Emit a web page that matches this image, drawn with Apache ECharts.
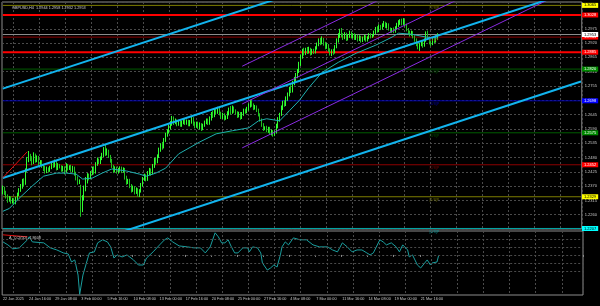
<!DOCTYPE html>
<html><head><meta charset="utf-8">
<script src="https://cdn.jsdelivr.net/npm/echarts@6/dist/echarts.min.js"></script>
<style>html,body{margin:0;padding:0;background:#000}#c{width:600px;height:306px}</style>
</head><body><div id="c"></div>
<script>
// ---- time axis ----
const slotCount = 356;
const tickLabels = ['22 Jan 2025','24 Jan 16:00','29 Jan 08:00','3 Feb 00:00','5 Feb 16:00','10 Feb 08:00','13 Feb 00:00','17 Feb 16:00','20 Feb 08:00','25 Feb 00:00','27 Feb 16:00','4 Mar 08:00','7 Mar 00:00','11 Mar 16:00','14 Mar 08:00','19 Mar 00:00','21 Mar 16:00'];
const barsPerLabel = 16;
// ---- candles [open, close, low, high] per week ----
const wk1 = [[1.2350,1.2362,1.2338,1.2372],[1.2362,1.2345,1.2336,1.2368],[1.2345,1.2330,1.2322,1.2352],[1.2330,1.2318,1.2306,1.2338],[1.2318,1.2325,1.2310,1.2332],[1.2325,1.2310,1.2302,1.2330],[1.2310,1.2318,1.2303,1.2324],[1.2318,1.2305,1.2298,1.2322],[1.2305,1.2322,1.2300,1.2328],[1.2322,1.2340,1.2315,1.2345],[1.2340,1.2355,1.2332,1.2362],[1.2355,1.2368,1.2348,1.2378],[1.2368,1.2392,1.2360,1.2398],[1.2392,1.2378,1.2370,1.2400],[1.2378,1.2430,1.2375,1.2438],[1.2430,1.2475,1.2425,1.2482],[1.2475,1.2488,1.2462,1.2505],[1.2488,1.2478,1.2466,1.2494]];
const wk2 = [[1.2478,1.2462,1.2450,1.2485],[1.2462,1.2490,1.2455,1.2500],[1.2490,1.2472,1.2460,1.2495],[1.2472,1.2480,1.2462,1.2488],[1.2480,1.2458,1.2448,1.2486],[1.2458,1.2465,1.2450,1.2470],[1.2465,1.2448,1.2440,1.2470],[1.2448,1.2440,1.2428,1.2455],[1.2440,1.2425,1.2418,1.2448],[1.2425,1.2438,1.2420,1.2445],[1.2438,1.2430,1.2422,1.2442],[1.2430,1.2442,1.2425,1.2448],[1.2442,1.2455,1.2435,1.2460],[1.2455,1.2448,1.2440,1.2462],[1.2448,1.2465,1.2442,1.2472],[1.2465,1.2438,1.2430,1.2470],[1.2438,1.2450,1.2432,1.2458],[1.2450,1.2445,1.2438,1.2455],[1.2445,1.2432,1.2425,1.2450],[1.2432,1.2442,1.2426,1.2448],[1.2442,1.2428,1.2415,1.2446],[1.2428,1.2448,1.2422,1.2458],[1.2448,1.2438,1.2430,1.2455],[1.2438,1.2445,1.2432,1.2450],[1.2445,1.2430,1.2425,1.2452],[1.2430,1.2440,1.2422,1.2448],[1.2440,1.2418,1.2410,1.2445],[1.2418,1.2400,1.2392,1.2425],[1.2400,1.2385,1.2375,1.2408],[1.2385,1.2390,1.2378,1.2396]];
const wk3 = [[1.2370,1.2290,1.2252,1.2375],[1.2290,1.2325,1.2270,1.2335],[1.2325,1.2360,1.2315,1.2372],[1.2360,1.2395,1.2350,1.2405],[1.2395,1.2410,1.2380,1.2420],[1.2410,1.2402,1.2392,1.2418],[1.2402,1.2420,1.2396,1.2428],[1.2420,1.2438,1.2412,1.2445],[1.2438,1.2422,1.2415,1.2446],[1.2422,1.2455,1.2418,1.2462],[1.2455,1.2470,1.2448,1.2480],[1.2470,1.2462,1.2455,1.2476],[1.2462,1.2478,1.2455,1.2484],[1.2478,1.2490,1.2470,1.2498],[1.2490,1.2512,1.2482,1.2520],[1.2512,1.2495,1.2486,1.2528],[1.2495,1.2505,1.2488,1.2515],[1.2505,1.2485,1.2478,1.2510],[1.2485,1.2470,1.2460,1.2490],[1.2470,1.2448,1.2440,1.2475],[1.2448,1.2430,1.2420,1.2452],[1.2430,1.2440,1.2424,1.2446],[1.2440,1.2425,1.2418,1.2445],[1.2425,1.2432,1.2418,1.2440],[1.2432,1.2440,1.2425,1.2446],[1.2440,1.2428,1.2420,1.2445],[1.2428,1.2435,1.2422,1.2442],[1.2435,1.2405,1.2395,1.2440],[1.2405,1.2385,1.2375,1.2410],[1.2385,1.2392,1.2378,1.2398]];
const wk4 = [[1.2392,1.2370,1.2362,1.2398],[1.2370,1.2355,1.2345,1.2378],[1.2355,1.2365,1.2348,1.2372],[1.2365,1.2345,1.2338,1.2370],[1.2345,1.2358,1.2340,1.2365],[1.2358,1.2340,1.2330,1.2362],[1.2340,1.2352,1.2328,1.2358],[1.2352,1.2375,1.2345,1.2382],[1.2375,1.2398,1.2368,1.2405],[1.2398,1.2410,1.2390,1.2418],[1.2410,1.2395,1.2388,1.2415],[1.2395,1.2420,1.2390,1.2428],[1.2420,1.2432,1.2412,1.2440],[1.2432,1.2420,1.2410,1.2438],[1.2420,1.2448,1.2415,1.2455],[1.2448,1.2470,1.2440,1.2478],[1.2470,1.2462,1.2452,1.2480],[1.2462,1.2485,1.2458,1.2492],[1.2485,1.2510,1.2478,1.2518],[1.2510,1.2528,1.2502,1.2535],[1.2528,1.2520,1.2510,1.2540],[1.2520,1.2548,1.2515,1.2555],[1.2548,1.2568,1.2540,1.2575],[1.2568,1.2580,1.2560,1.2588],[1.2580,1.2595,1.2572,1.2605],[1.2595,1.2612,1.2588,1.2620],[1.2612,1.2630,1.2602,1.2640],[1.2630,1.2615,1.2605,1.2638],[1.2615,1.2622,1.2608,1.2630],[1.2622,1.2610,1.2600,1.2626]];
const wk5 = [[1.2610,1.2618,1.2602,1.2625],[1.2618,1.2605,1.2598,1.2624],[1.2605,1.2615,1.2598,1.2622],[1.2615,1.2625,1.2608,1.2632],[1.2625,1.2612,1.2605,1.2630],[1.2612,1.2620,1.2606,1.2626],[1.2620,1.2608,1.2600,1.2625],[1.2608,1.2618,1.2600,1.2624],[1.2618,1.2630,1.2610,1.2638],[1.2630,1.2612,1.2602,1.2635],[1.2612,1.2600,1.2592,1.2618],[1.2600,1.2612,1.2595,1.2618],[1.2612,1.2598,1.2590,1.2618],[1.2598,1.2608,1.2588,1.2615],[1.2608,1.2592,1.2582,1.2612],[1.2592,1.2605,1.2585,1.2610],[1.2605,1.2615,1.2598,1.2622],[1.2615,1.2622,1.2608,1.2630],[1.2622,1.2612,1.2605,1.2630],[1.2612,1.2630,1.2606,1.2638],[1.2630,1.2648,1.2622,1.2655],[1.2648,1.2640,1.2632,1.2660],[1.2640,1.2662,1.2635,1.2668],[1.2662,1.2655,1.2646,1.2670],[1.2655,1.2668,1.2648,1.2675],[1.2668,1.2650,1.2642,1.2672],[1.2650,1.2635,1.2628,1.2656],[1.2635,1.2645,1.2628,1.2652],[1.2645,1.2630,1.2622,1.2650],[1.2630,1.2635,1.2625,1.2642]];
const wk6 = [[1.2635,1.2650,1.2628,1.2658],[1.2650,1.2665,1.2642,1.2672],[1.2665,1.2655,1.2645,1.2678],[1.2655,1.2670,1.2648,1.2680],[1.2670,1.2660,1.2652,1.2676],[1.2660,1.2652,1.2645,1.2665],[1.2652,1.2640,1.2632,1.2658],[1.2640,1.2650,1.2634,1.2656],[1.2650,1.2632,1.2625,1.2655],[1.2632,1.2648,1.2628,1.2655],[1.2648,1.2662,1.2640,1.2668],[1.2662,1.2655,1.2648,1.2668],[1.2655,1.2668,1.2650,1.2675],[1.2668,1.2680,1.2660,1.2688],[1.2680,1.2695,1.2672,1.2702],[1.2695,1.2682,1.2675,1.2705],[1.2682,1.2670,1.2662,1.2688],[1.2670,1.2675,1.2664,1.2682],[1.2675,1.2662,1.2655,1.2680],[1.2662,1.2645,1.2638,1.2668],[1.2645,1.2625,1.2618,1.2650],[1.2625,1.2605,1.2598,1.2630],[1.2605,1.2590,1.2582,1.2612],[1.2590,1.2595,1.2585,1.2600],[1.2595,1.2585,1.2578,1.2602],[1.2585,1.2592,1.2575,1.2598],[1.2592,1.2575,1.2568,1.2598],[1.2575,1.2580,1.2565,1.2588],[1.2580,1.2570,1.2560,1.2585],[1.2570,1.2578,1.2562,1.2584]];
const wk7 = [[1.2578,1.2600,1.2572,1.2610],[1.2600,1.2625,1.2592,1.2635],[1.2625,1.2645,1.2618,1.2652],[1.2645,1.2670,1.2640,1.2680],[1.2670,1.2690,1.2662,1.2698],[1.2690,1.2685,1.2675,1.2700],[1.2685,1.2705,1.2678,1.2715],[1.2705,1.2722,1.2698,1.2730],[1.2722,1.2745,1.2715,1.2752],[1.2745,1.2735,1.2728,1.2758],[1.2735,1.2765,1.2730,1.2775],[1.2765,1.2780,1.2758,1.2790],[1.2780,1.2795,1.2772,1.2805],[1.2795,1.2812,1.2785,1.2820],[1.2812,1.2840,1.2805,1.2848],[1.2840,1.2868,1.2832,1.2875],[1.2868,1.2890,1.2860,1.2898],[1.2890,1.2880,1.2872,1.2902],[1.2880,1.2895,1.2874,1.2902],[1.2895,1.2885,1.2878,1.2905],[1.2885,1.2898,1.2880,1.2906],[1.2898,1.2880,1.2872,1.2902],[1.2880,1.2892,1.2875,1.2898],[1.2892,1.2885,1.2878,1.2898],[1.2885,1.2900,1.2880,1.2908],[1.2900,1.2915,1.2895,1.2922],[1.2915,1.2930,1.2908,1.2938],[1.2930,1.2920,1.2912,1.2940],[1.2920,1.2935,1.2915,1.2946],[1.2935,1.2918,1.2910,1.2940]];
const wk8 = [[1.2918,1.2905,1.2896,1.2925],[1.2905,1.2912,1.2898,1.2920],[1.2912,1.2895,1.2886,1.2916],[1.2895,1.2880,1.2872,1.2900],[1.2880,1.2890,1.2870,1.2896],[1.2890,1.2885,1.2875,1.2898],[1.2885,1.2905,1.2880,1.2912],[1.2905,1.2930,1.2900,1.2938],[1.2930,1.2948,1.2922,1.2958],[1.2948,1.2965,1.2940,1.2975],[1.2965,1.2950,1.2942,1.2978],[1.2950,1.2940,1.2932,1.2958],[1.2940,1.2955,1.2935,1.2962],[1.2955,1.2935,1.2928,1.2960],[1.2935,1.2948,1.2930,1.2955],[1.2948,1.2960,1.2940,1.2968],[1.2960,1.2945,1.2938,1.2965],[1.2945,1.2952,1.2938,1.2958],[1.2952,1.2940,1.2932,1.2958],[1.2940,1.2948,1.2932,1.2954],[1.2948,1.2935,1.2926,1.2952],[1.2935,1.2942,1.2928,1.2950],[1.2942,1.2930,1.2922,1.2948],[1.2930,1.2938,1.2924,1.2945],[1.2938,1.2945,1.2930,1.2952],[1.2945,1.2932,1.2925,1.2950],[1.2932,1.2940,1.2926,1.2946],[1.2940,1.2952,1.2935,1.2958],[1.2952,1.2945,1.2938,1.2958],[1.2945,1.2950,1.2940,1.2955]];
const wk9 = [[1.2950,1.2962,1.2945,1.2968],[1.2962,1.2975,1.2955,1.2982],[1.2975,1.2968,1.2960,1.2985],[1.2968,1.2985,1.2962,1.2992],[1.2985,1.2978,1.2970,1.2990],[1.2978,1.2990,1.2972,1.2996],[1.2990,1.2998,1.2982,1.3005],[1.2998,1.2985,1.2978,1.3002],[1.2985,1.2992,1.2976,1.2998],[1.2992,1.2975,1.2968,1.2996],[1.2975,1.2968,1.2960,1.2980],[1.2968,1.2972,1.2960,1.2978],[1.2972,1.2965,1.2958,1.2980],[1.2965,1.2978,1.2960,1.2985],[1.2978,1.2990,1.2972,1.2998],[1.2990,1.2998,1.2982,1.3008],[1.2998,1.3005,1.2990,1.3012],[1.3005,1.2995,1.2988,1.3014],[1.2995,1.3008,1.2990,1.3016],[1.3008,1.2990,1.2982,1.3012],[1.2990,1.2972,1.2965,1.2995],[1.2972,1.2962,1.2952,1.2978],[1.2962,1.2955,1.2945,1.2968],[1.2955,1.2962,1.2948,1.2968],[1.2962,1.2945,1.2938,1.2966],[1.2945,1.2932,1.2925,1.2950],[1.2932,1.2915,1.2908,1.2938],[1.2915,1.2905,1.2896,1.2920],[1.2905,1.2915,1.2890,1.2920],[1.2915,1.2920,1.2908,1.2925]];
const wk10 = [[1.2920,1.2912,1.2902,1.2928],[1.2912,1.2930,1.2906,1.2938],[1.2930,1.2955,1.2925,1.2965],[1.2955,1.2940,1.2932,1.2968],[1.2940,1.2925,1.2915,1.2945],[1.2925,1.2918,1.2908,1.2930],[1.2918,1.2935,1.2912,1.2940],[1.2935,1.2928,1.2920,1.2942],[1.2928,1.2944,1.2922,1.2950],[1.2944,1.2953,1.2932,1.2958]];
// ---- moving average [bar, price] ----
const maPoints = [[0,1.2273],[4,1.2284],[10,1.2323],[18,1.2370],[25,1.2408],[33,1.2420],[39,1.2420],[45,1.2416],[49,1.2397],[55,1.2401],[61,1.2420],[67,1.2436],[76,1.2428],[84,1.2416],[88,1.2408],[94,1.2420],[100,1.2439],[108,1.2494],[121,1.2540],[131,1.2571],[141,1.2583],[151,1.2594],[157,1.2621],[162,1.2629],[170,1.2621],[176,1.2660],[182,1.2699],[188,1.2749],[196,1.2807],[206,1.2846],[217,1.2881],[229,1.2912],[239,1.2943],[243,1.2958],[251,1.2954],[260,1.2943],[267,1.2939]];
// ---- CCI(50) [bar, value] ----
const cciPoints = [[0,162],[3,125],[6,75],[10,88],[15,188],[16,225],[18,162],[25,150],[29,88],[33,62],[37,25],[40,12],[42,-88],[44,-62],[46,-250],[47,-490],[49,-250],[52,-38],[53,25],[56,38],[58,150],[61,188],[64,162],[66,100],[68,-38],[70,0],[73,-25],[76,0],[80,-62],[83,-125],[86,-125],[88,-38],[92,38],[96,125],[99,188],[101,212],[104,162],[108,112],[113,100],[117,88],[121,88],[124,25],[127,100],[130,275],[132,225],[134,150],[136,150],[138,188],[140,100],[142,25],[144,25],[147,88],[150,88],[151,38],[153,100],[156,88],[158,25],[159,-100],[162,-188],[164,-162],[166,-125],[168,-150],[170,0],[171,100],[173,162],[175,125],[178,212],[182,188],[186,188],[190,125],[194,100],[199,100],[202,62],[205,38],[208,150],[211,100],[214,38],[217,62],[220,62],[223,25],[225,0],[227,25],[231,188],[233,162],[235,125],[238,150],[241,100],[243,38],[245,125],[248,62],[249,-25],[251,0],[254,-125],[256,-162],[257,-150],[260,-62],[262,-125],[263,-100],[266,-88],[267,-8]];
const cciRange = [-498.138, 297.5313];
const cciGridLevels = [200, 100, 0, -100, -200];
const cciAxisLabels = [297.5313, 200, 100, 0, -100, -200, -250, -498.138];
const cciTrend = [[0,250],[15,225]];
// ---- price axis ----
const priceMin = 1.2205, priceMax = 1.3078, priceStep = 0.0055;
// ---- levels ----
const murrayLevels = [1.2207, 1.2329, 1.2452, 1.2575, 1.2698, 1.2820, 1.2943, 1.3065];
const murrayNames = ['[0/8]P','[1/8]P','[2/8]P','[3/8]P','[4/8]P','[5/8]P','[6/8]P','[7/8]P'];
const srLevels = [1.2885, 1.3028];
// ---- trend lines [bar, price] ----
const cyanLines = [
  [[0,1.2745],[200,1.3155]],
  [[0,1.2401],[355,1.3129]],
  [[0,1.2044],[355,1.2772]]
];
const purpleLines = [
  [[147,1.2831],[260,1.3174]],
  [[147,1.2686],[355,1.3317]],
  [[147,1.2517],[355,1.3148]]
];
const redTrend = [[0,1.2402],[15,1.2502]];
const titleText = 'GBPUSD,H4  1.2944 1.2958 1.2932 1.2953';
const cciTitle = 'A_CCI(50) -7.8608';

// ===== build =====
const cats = Array.from({length: slotCount}, (_, i) => String(i));
const candles = [].concat(wk1, wk2, wk3, wk4, wk5, wk6, wk7, wk8, wk9, wk10);
const lastClose = candles[candles.length - 1][1];
const lastSlot = slotCount - 1;
const FONT = 'Liberation Sans';
const SMALL = 3.8;
const mColors = ['#00a6a6','#7e7e00','#8c0000','#005c00','#0000b4','#005c00','#8c0000','#7e7e00'];
const mBox = ['#00ffff','#ffff00','#ff0000','#008a00','#0000ff','#008a00','#ff0000','#ffff00'];
const mText = ['#000','#000','#fff','#fff','#fff','#fff','#fff','#000'];

function levelSeries(v, color, width, box, txt, z) {
  return {type: 'line', xAxisIndex: 0, yAxisIndex: 0, data: [[0, v], [lastSlot, v]], showSymbol: false,
    silent: true, z: z, lineStyle: {color: color, width: width},
    endLabel: {show: true, formatter: v.toFixed(4), distance: 1, backgroundColor: box, color: txt,
      fontSize: 4, fontFamily: FONT, padding: [1, 2, 0, 2]}};
}

const series = [{
  type: 'candlestick', xAxisIndex: 0, yAxisIndex: 0, data: candles, barWidth: '62%', z: 3,
  itemStyle: {color: '#10d010', color0: '#006e00', borderColor: '#30ff30', borderColor0: '#20c020', borderWidth: 1}
}, {
  type: 'line', xAxisIndex: 0, yAxisIndex: 0, data: maPoints, showSymbol: false,
  lineStyle: {color: '#1fb0b0', width: 1}, z: 4
}];
murrayLevels.forEach((v, k) => series.push(levelSeries(v, mColors[k], 1, mBox[k], mText[k], 2)));
srLevels.forEach(v => series.push(levelSeries(v, '#ff0000', 2, '#ff0000', '#fff', 2)));
series.push(levelSeries(lastClose, '#8c8c8c', 1, '#ffffff', '#000', 2));
cyanLines.forEach(d => series.push({type: 'line', xAxisIndex: 0, yAxisIndex: 0, data: d, showSymbol: false, clip: true,
  lineStyle: {color: '#12b4ee', width: 2}, z: 5}));
purpleLines.forEach(d => series.push({type: 'line', xAxisIndex: 0, yAxisIndex: 0, data: d, showSymbol: false, clip: true,
  lineStyle: {color: '#8a2be2', width: 1}, z: 5}));
series.push({type: 'line', xAxisIndex: 0, yAxisIndex: 0, data: redTrend, showSymbol: false,
  lineStyle: {color: '#e01010', width: 1}, z: 5});
series.push({type: 'scatter', xAxisIndex: 0, yAxisIndex: 0, symbolSize: 0, z: 6,
  data: murrayLevels.map((v, k) => ({value: [265, v], name: murrayNames[k],
    label: {color: mColors[k]}})),
  label: {show: true, position: 'bottom', distance: 1, fontSize: SMALL, fontFamily: FONT, formatter: p => p.name}});
series.push({type: 'line', xAxisIndex: 1, yAxisIndex: 1, data: cciPoints, showSymbol: false,
  lineStyle: {color: '#1a9e9e', width: 1}, z: 4,
  markLine: {silent: true, symbol: 'none', animation: false, precision: 4, data:
    cciGridLevels.map(v => ({yAxis: v, lineStyle: {color: '#4a4a4a', width: 1, type: [2, 2]}, label: {show: false}}))
    .concat(cciAxisLabels.map(v => ({yAxis: v, lineStyle: {opacity: 0}, label: {show: true, position: 'end', distance: 2,
      formatter: (v === 0 ? '0.00' : String(v)), color: '#c8c8c8', fontSize: SMALL, fontFamily: FONT}})))
  }});
series.push({type: 'line', xAxisIndex: 1, yAxisIndex: 1, data: cciTrend, showSymbol: false,
  lineStyle: {color: '#e01010', width: 1}, z: 4});

const gridLineX = (idx) => idx % barsPerLabel === 7;
const labelAt = (i) => i % barsPerLabel === 0 && i / barsPerLabel < tickLabels.length;
const option = {
  backgroundColor: '#000000',
  animation: false,
  title: [
    {text: titleText, left: 7, top: 1, textStyle: {color: '#d0d0d0', fontSize: SMALL, fontWeight: 'normal', fontFamily: FONT}},
    {text: cciTitle, left: 4, top: 231, textStyle: {color: '#d0d0d0', fontSize: SMALL, fontWeight: 'normal', fontFamily: FONT}}
  ],
  grid: [
    {left: 2, right: 17, top: 2, height: 227, show: true, borderColor: '#8c8c8c', borderWidth: 1},
    {left: 2, right: 17, top: 231, height: 64, show: true, borderColor: '#8c8c8c', borderWidth: 1}
  ],
  xAxis: [
    {type: 'category', gridIndex: 0, data: cats, boundaryGap: true,
      axisLine: {show: false}, axisTick: {show: false}, axisLabel: {show: false},
      splitLine: {show: true, interval: gridLineX, lineStyle: {color: '#4a4a4a', type: [2, 2]}}},
    {type: 'category', gridIndex: 1, data: cats, boundaryGap: true,
      axisLine: {show: false},
      axisTick: {show: true, length: 2, interval: labelAt, lineStyle: {color: '#8c8c8c'}},
      axisLabel: {show: true, interval: labelAt, hideOverlap: false,
        formatter: (v) => tickLabels[Number(v) / barsPerLabel] || '', align: 'left', margin: 2,
        color: '#c8c8c8', fontSize: SMALL, fontFamily: FONT},
      splitLine: {show: true, interval: gridLineX, lineStyle: {color: '#4a4a4a', type: [2, 2]}}}
  ],
  yAxis: [
    {type: 'value', gridIndex: 0, position: 'right', min: priceMin, max: priceMax, interval: priceStep,
      axisLine: {show: false}, axisTick: {show: false},
      axisLabel: {color: '#c8c8c8', fontSize: 4, fontFamily: FONT, margin: 3, showMinLabel: false, showMaxLabel: false,
        formatter: (v) => v.toFixed(4)},
      splitLine: {show: true, lineStyle: {color: '#4a4a4a', type: [2, 2]}}},
    {type: 'value', gridIndex: 1, position: 'right', min: cciRange[0], max: cciRange[1],
      axisLine: {show: false}, axisTick: {show: false}, axisLabel: {show: false}, splitLine: {show: false}}
  ],
  series: series
};
const chart = echarts.init(document.getElementById('c'), null, {renderer: 'canvas'});
chart.setOption(option);
</script></body></html>
